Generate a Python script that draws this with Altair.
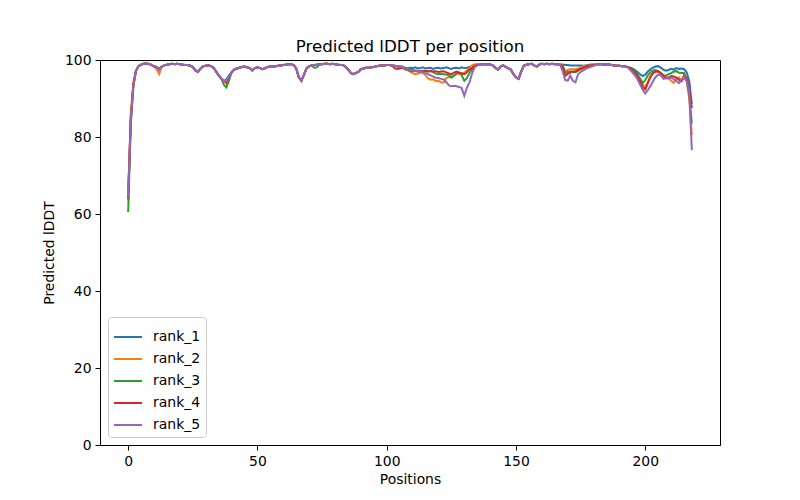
import altair as alt
import pandas as pd

ranks = ["rank_1", "rank_2", "rank_3", "rank_4", "rank_5"]
colors = ["#1f77b4", "#ff7f0e", "#2ca02c", "#d62728", "#9467bd"]

# positions 0..2 (per rank)
start = {
    "rank_1": [65.8, 84.5, 93.8],
    "rank_2": [63.5, 86.0, 94.2],
    "rank_3": [60.5, 83.0, 93.0],
    "rank_4": [64.0, 85.0, 93.5],
    "rank_5": [64.5, 84.0, 93.3],
}

# positions 3..105 (shared)
shared_a = [
    97.2, 98.4, 98.8, 99.0, 99.1, 99.0, 98.7, 98.3, 98.2, 97.6,
    98.3, 98.6, 98.8, 98.9, 99.0, 98.9, 99.0, 98.9, 98.8, 98.7,
    98.7, 98.5, 98.2, 97.3, 96.9, 97.8, 98.4, 98.5, 98.6, 98.4,
    98.0, 97.0, 96.0, 95.2, 94.6, 94.4, 95.5, 96.8, 97.5, 97.8,
    98.0, 98.2, 98.3, 98.1, 97.9, 97.3, 97.9, 98.1, 97.9, 97.6,
    97.9, 98.2, 98.3, 98.3, 98.4, 98.5, 98.6, 98.7, 98.8, 98.9,
    98.9, 98.7, 97.8, 95.5, 94.6, 96.2, 97.8, 98.4, 98.6, 98.7,
    98.8, 98.9, 98.9, 99.0, 99.0, 98.9, 99.0, 98.9, 98.8, 98.7,
    98.7, 98.3, 97.6, 96.7, 96.3, 96.6, 96.9, 97.6, 97.8, 98.0,
    98.0, 98.1, 98.2, 98.4, 98.5, 98.6, 98.6, 98.7, 98.7, 98.6,
    98.5, 98.4, 98.3,
]

# per-rank values that differ from the shared stretch (position: value)
overrides = {
    "rank_1": {38: 94.9, 39: 96.0},
    "rank_2": {11: 97.6, 12: 96.3, 38: 94.4},
    "rank_3": {37: 93.6, 38: 92.9, 39: 94.6, 72: 98.0, 73: 98.1},
    "rank_4": {38: 94.0, 103: 97.9, 104: 97.7, 105: 97.8},
    "rank_5": {12: 97.3, 38: 94.5},
}

# positions 106..135 (per rank)
mid1 = {
    "rank_1": [98.3, 98.0, 97.8, 98.0, 97.9, 98.1, 97.8, 97.9, 98.1, 97.8,
               97.9, 98.0, 97.7, 97.9, 98.0, 97.8, 97.9, 98.1, 97.9, 97.7,
               97.9, 98.0, 97.8, 98.1, 97.9, 98.0, 98.2, 98.4, 98.6, 98.8],
    "rank_2": [98.1, 97.8, 97.5, 97.0, 96.6, 96.3, 96.5, 96.7, 96.7, 96.0,
               95.2, 94.9, 95.0, 94.5, 94.6, 94.2, 94.1, 95.3, 95.5, 95.8,
               96.0, 96.3, 96.5, 96.5, 96.7, 97.3, 97.9, 98.6, 98.9, 98.9],
    "rank_3": [98.2, 98.0, 97.8, 97.6, 97.5, 97.3, 97.2, 97.1, 97.1, 97.2,
               97.0, 97.1, 96.8, 96.5, 96.3, 96.4, 96.3, 96.2, 96.0, 95.4,
               95.9, 96.6, 96.7, 96.0, 94.6, 95.3, 96.6, 97.6, 98.3, 98.7],
    "rank_4": [98.0, 97.6, 97.4, 97.2, 97.1, 97.2, 97.0, 97.1, 97.2, 97.0,
               97.1, 97.2, 97.0, 97.1, 96.9, 97.0, 97.1, 96.8, 96.5, 96.3,
               96.7, 97.0, 96.8, 96.5, 96.3, 96.8, 97.5, 97.9, 98.4, 98.7],
    "rank_5": [98.2, 97.7, 97.4, 97.3, 97.3, 97.1, 97.2, 97.0, 96.8, 96.6,
               96.3, 96.0, 95.7, 95.4, 95.3, 95.1, 95.0, 94.3, 93.4, 93.2,
               93.3, 93.2, 93.0, 92.7, 90.7, 92.8, 94.2, 96.5, 98.1, 98.6],
}

# positions 136..167 (shared)
shared_b = [
    98.8, 98.9, 98.9, 98.8, 98.8, 98.6, 98.0, 97.5, 98.3, 98.6,
    98.2, 97.8, 97.5, 96.3, 95.5, 95.1, 97.0, 98.5, 98.8, 98.9,
    99.0, 98.6, 98.3, 98.8, 99.0, 98.9, 99.0, 98.9, 99.0, 98.9,
    98.9, 98.8,
]

# positions 168..181 (per rank)
mid2 = {
    "rank_1": [98.8, 98.7, 98.7, 98.6, 98.6, 98.6, 98.6, 98.6, 98.5, 98.6, 98.7, 98.8, 98.8, 98.8],
    "rank_2": [98.6, 97.1, 97.4, 97.6, 97.6, 97.6, 97.8, 98.1, 98.4, 98.5, 98.6, 98.7, 98.8, 98.8],
    "rank_3": [98.5, 96.7, 96.9, 97.0, 96.9, 96.8, 97.2, 97.6, 97.9, 98.2, 98.4, 98.6, 98.7, 98.8],
    "rank_4": [98.3, 95.9, 96.4, 96.8, 97.0, 97.1, 97.4, 97.7, 98.0, 98.3, 98.5, 98.6, 98.7, 98.8],
    "rank_5": [97.2, 94.8, 94.6, 95.9, 94.6, 94.2, 96.3, 96.9, 97.3, 97.7, 98.0, 98.2, 98.5, 98.7],
}

# positions 182..193 (shared)
shared_c = [98.9, 98.9, 98.8, 98.8, 98.8, 98.7, 98.6, 98.5, 98.5, 98.4, 98.4, 98.2]

# positions 194..218 (per rank)
tail = {
    "rank_1": [98.0, 97.8, 97.4, 96.9, 96.3, 95.8, 96.2, 97.0, 97.6, 98.0,
               98.3, 98.4, 98.0, 97.5, 97.2, 97.4, 97.7, 97.5, 97.9, 97.7,
               97.8, 97.6, 96.8, 94.5, 88.6],
    "rank_2": [97.9, 97.5, 96.8, 96.0, 94.8, 93.6, 93.0, 94.4, 95.8, 96.7,
               97.1, 97.0, 96.5, 96.0, 95.6, 95.2, 94.6, 94.1, 95.2, 95.5,
               94.5, 95.3, 94.6, 90.0, 80.5],
    "rank_3": [98.0, 97.6, 97.0, 96.3, 95.2, 94.0, 94.8, 96.0, 96.8, 97.3,
               97.4, 97.0, 96.5, 95.9, 96.0, 96.3, 96.6, 97.0, 97.1, 96.7,
               96.6, 96.6, 95.0, 91.0, 83.5],
    "rank_4": [97.9, 97.4, 96.6, 95.7, 94.4, 93.0, 92.4, 94.0, 95.6, 96.6,
               97.0, 97.1, 96.6, 96.0, 95.2, 95.3, 95.8, 95.7, 95.4, 94.9,
               94.5, 96.0, 95.2, 92.5, 87.5],
    "rank_5": [97.5, 96.8, 96.0, 95.0, 93.6, 92.3, 91.3, 92.2, 93.2, 94.5,
               95.6, 96.2, 96.0, 95.1, 95.3, 95.6, 95.4, 95.0, 94.6, 94.0,
               94.8, 95.7, 94.5, 92.0, 76.6],
}

rows = []
for r in ranks:
    head = list(shared_a)
    for pos, v in overrides[r].items():
        head[pos - 3] = v
    vals = start[r] + head + mid1[r] + shared_b + mid2[r] + shared_c + tail[r]
    for i, v in enumerate(vals):
        rows.append({"Position": i, "lDDT": v, "rank": r})
df = pd.DataFrame(rows)

font = "DejaVu Sans"

chart = alt.Chart(df).mark_line(strokeWidth=2).encode(
    x=alt.X("Position:Q",
            scale=alt.Scale(domain=[-10.9, 228.9], nice=False, zero=False),
            axis=alt.Axis(values=[0, 50, 100, 150, 200], title="Positions",
                          titlePadding=5)),
    y=alt.Y("lDDT:Q",
            scale=alt.Scale(domain=[0, 100], nice=False),
            axis=alt.Axis(values=[0, 20, 40, 60, 80, 100], title="Predicted lDDT",
                          titlePadding=8)),
    color=alt.Color("rank:N",
                    scale=alt.Scale(domain=ranks, range=colors),
                    legend=alt.Legend(title=None, orient="bottom-left", offset=8,
                                      symbolType="M-1,0H1", symbolSize=784,
                                      symbolStrokeWidth=2, labelFontSize=14,
                                      rowPadding=0, labelOffset=10,
                                      strokeColor="#cccccc", fillColor="white",
                                      cornerRadius=3, padding=5, labelFont=font)),
).properties(
    width=620,
    height=385,
    title=alt.TitleParams("Predicted lDDT per position", fontSize=16.7,
                          fontWeight="normal", font=font, offset=-3, color="black"),
    autosize=alt.AutoSizeParams(type="none"),
    padding={"left": 92, "top": 52, "right": 72, "bottom": 48},
).configure_view(
    stroke="black", strokeWidth=1
).configure_axis(
    grid=False, domainColor="black", tickColor="black", labelColor="black",
    titleColor="black", labelFont=font, titleFont=font, labelFontSize=13.9,
    titleFontSize=13.9, titleFontWeight="normal", tickSize=5, labelPadding=4,
    domainWidth=1, tickWidth=1
)

chart.save("out.html", embed_options={"renderer": "svg", "actions": False})
